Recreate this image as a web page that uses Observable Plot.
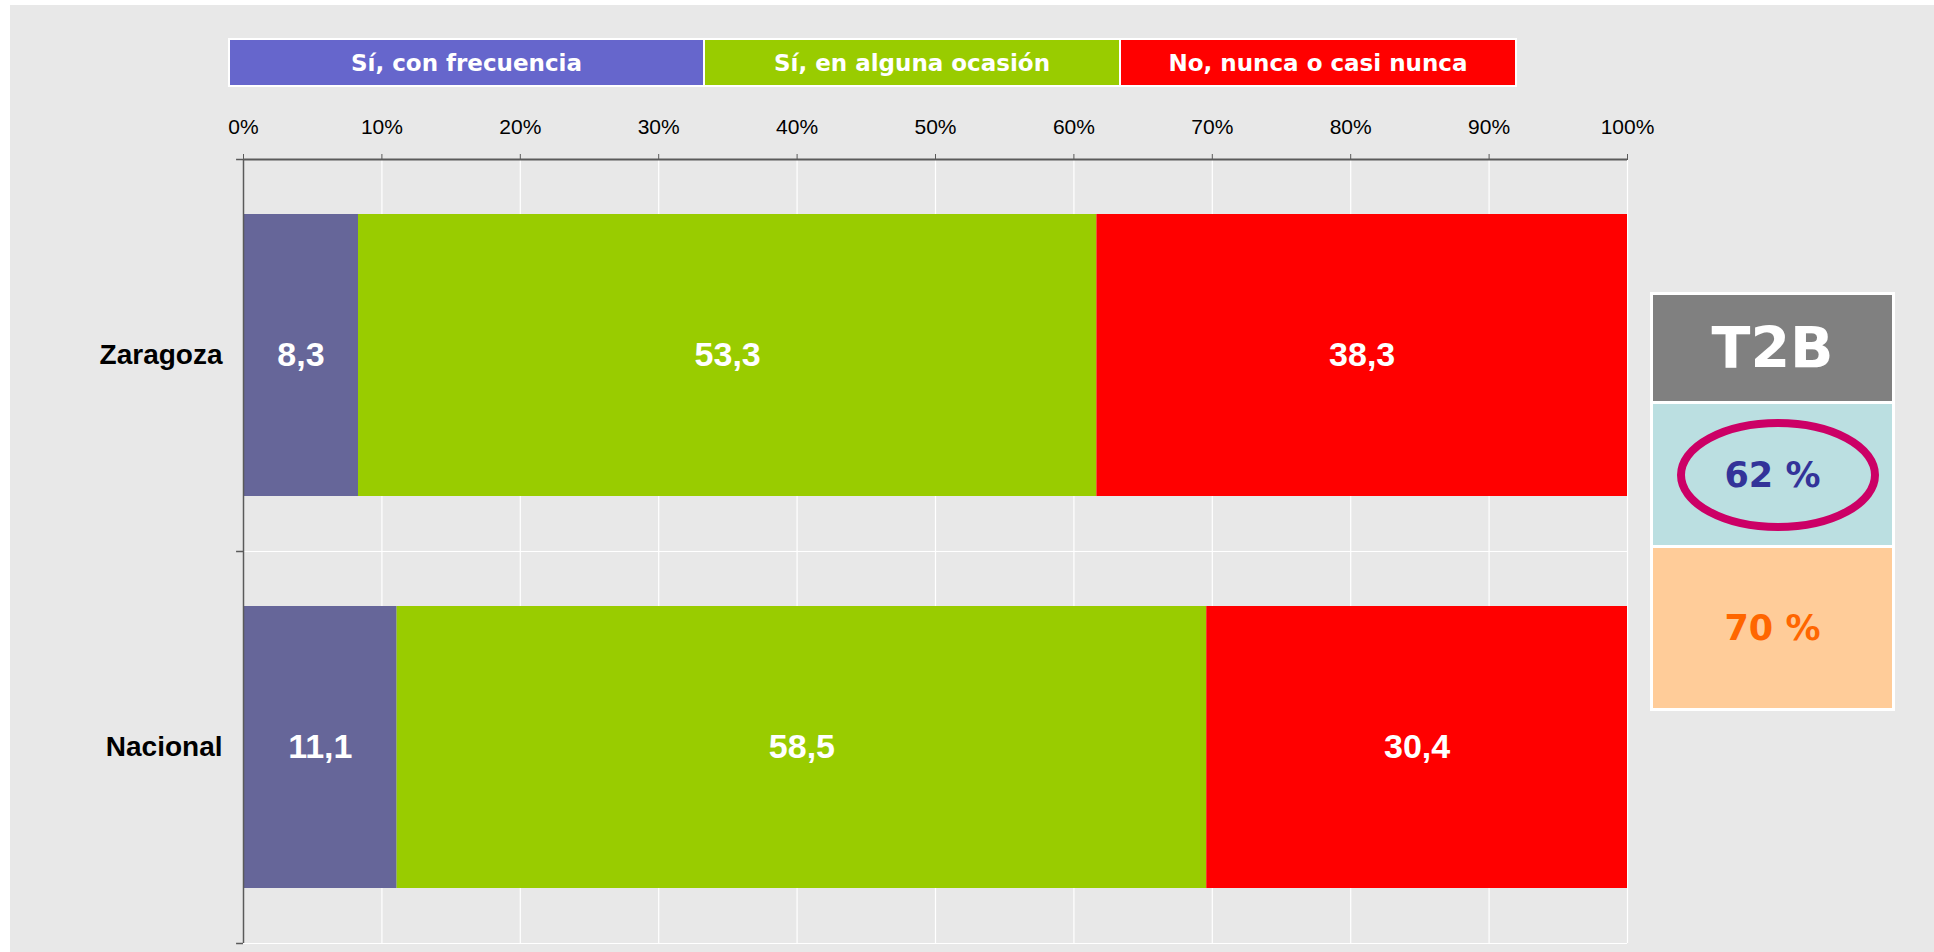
<!DOCTYPE html>
<html>
<head>
<meta charset="utf-8">
<script src="https://cdn.jsdelivr.net/npm/d3@7"></script>
<script src="https://cdn.jsdelivr.net/npm/@observablehq/plot@0.6"></script>
<style>
  html, body { margin: 0; padding: 0; background: #ffffff; }
  #wrap { position: relative; width: 1934px; height: 952px; overflow: hidden; }
  #bg { position: absolute; left: 10px; top: 5px; right: 0; bottom: 0; background: #e8e8e8; }
  #chart { position: absolute; left: 0; top: 0; }
  #legend { position: absolute; left: 228px; top: 38px; display: flex; border: 2.5px solid #ffffff; background: #ffffff; }
  #legend div { height: 45px; display: flex; align-items: center; justify-content: center;
    color: #ffffff; font-family: "DejaVu Sans", Verdana, sans-serif; font-weight: bold; font-size: 23px; }
  #t2b { position: absolute; left: 1650px; top: 292px; width: 239px; padding: 3px; background: #ffffff; }
  #t2b .cell { display: flex; align-items: center; justify-content: center; position: relative;
    font-family: "DejaVu Sans", Verdana, sans-serif; font-weight: bold; }
  #t2b svg { position: absolute; left: 0; top: 0; }
</style>
</head>
<body>
<div id="wrap">
  <div id="bg"></div>
  <div id="chart"></div>
  <div id="legend"></div>
  <div id="t2b"></div>
</div>
<script>
// ---- data ----
const categories = ["Zaragoza", "Nacional"];
const series = ["Sí, con frecuencia", "Sí, en alguna ocasión", "No, nunca o casi nunca"];
const valuesFrecuencia = [8.3, 11.1];
const valuesOcasion = [53.3, 58.5];
const valuesNunca = [38.3, 30.4];
const barColors = ["#666699", "#99cc00", "#ff0000"];
const legendColors = ["#6666cc", "#99cc00", "#ff0000"];
const xTicks = [0, 0.1, 0.2, 0.3, 0.4, 0.5, 0.6, 0.7, 0.8, 0.9, 1];
const t2bTitle = "T2B";
const t2bValues = ["62 %", "70 %"];

// ---- table built from arrays ----
const seriesValues = [valuesFrecuencia, valuesOcasion, valuesNunca];
const rows = [];
categories.forEach((c, i) => {
  series.forEach((s, j) => rows.push({category: c, series: s, value: seriesValues[j][i]}));
});
const fmt = v => d3.format(".1f")(v).replace(".", ",");

// layout
const W = 1934, H = 952;
const mLeft = 243, mRight = W - 1627, mTop = 159, mBottom = H - 943;
const half = (H - mTop - mBottom) / categories.length / 2;
const barInset = 55;
const axisColor = "#5a5a5a";

const plot = Plot.plot({
  width: W,
  height: H,
  marginLeft: mLeft,
  marginRight: mRight,
  marginTop: mTop,
  marginBottom: mBottom,
  style: {background: "transparent", fontFamily: "'Liberation Sans', Arial, sans-serif", overflow: "visible"},
  x: {domain: [0, 1]},
  y: {domain: categories, padding: 0},
  color: {domain: series, range: barColors},
  marks: [
    // gridlines
    Plot.ruleX(xTicks, {stroke: "#ffffff", strokeWidth: 1.2}),
    Plot.ruleY(categories, {y: d => d, dy: half, stroke: "#ffffff", strokeWidth: 1.2}),
    // bars
    Plot.barX(rows, Plot.stackX({
      x: "value", y: "category", fill: "series", offset: "normalize", order: series,
      insetTop: barInset, insetBottom: barInset
    })),
    Plot.text(rows, Plot.stackX({
      x: "value", y: "category", z: "series", offset: "normalize", order: series,
      text: d => fmt(d.value), fill: "#ffffff", fontSize: 34, fontWeight: "bold"
    })),
    // axes lines
    Plot.ruleX([0], {stroke: axisColor, strokeWidth: 1.5}),
    Plot.ruleY([categories[0]], {dy: -half, stroke: axisColor, strokeWidth: 2}),
    // y boundary ticks
    Plot.ruleY(categories, {y: d => d, x1: -0.005, x2: 0, dy: -half, stroke: axisColor, strokeWidth: 1.5}),
    Plot.ruleY([categories[categories.length - 1]], {x1: -0.005, x2: 0, dy: half, stroke: axisColor, strokeWidth: 1.5}),
    Plot.axisX({anchor: "top", ticks: xTicks, tickFormat: d3.format(".0%"), tickSize: 6,
      tickPadding: 20, fontSize: 21, stroke: axisColor, fill: "#000000", label: null}),
    Plot.axisY({anchor: "left", tickSize: 0, tickPadding: 21, fontSize: 28, fontWeight: "bold",
      fill: "#000000", label: null})
  ]
});
document.getElementById("chart").appendChild(plot);

// ---- legend (HTML built from series arrays) ----
const legendWidths = [473, 414, 394];
const legend = document.getElementById("legend");
series.forEach((s, i) => {
  const d = document.createElement("div");
  d.textContent = s;
  d.style.background = legendColors[i];
  d.style.width = legendWidths[i] + "px";
  if (i > 0) d.style.borderLeft = "2px solid #ffffff";
  legend.appendChild(d);
});

// ---- T2B box ----
const t2b = document.getElementById("t2b");
const cells = [
  {text: t2bTitle, bg: "#808080", color: "#ffffff", h: 106, size: 57},
  {text: t2bValues[0], bg: "#bbdfe1", color: "#333399", h: 141, size: 35, ring: true},
  {text: t2bValues[1], bg: "#ffcc99", color: "#ff6600", h: 160, size: 35}
];
cells.forEach((c, i) => {
  const d = document.createElement("div");
  d.className = "cell";
  d.style.background = c.bg;
  d.style.height = c.h + "px";
  d.style.color = c.color;
  d.style.fontSize = c.size + "px";
  if (i > 0) d.style.marginTop = "3px";
  if (c.ring) {
    const svg = d3.create("svg").attr("width", 239).attr("height", c.h);
    svg.append("ellipse").attr("cx", 125).attr("cy", 71).attr("rx", 97).attr("ry", 52)
      .attr("fill", "none").attr("stroke", "#cc0066").attr("stroke-width", 8);
    d.appendChild(svg.node());
  }
  const span = document.createElement("span");
  span.textContent = c.text;
  span.style.position = "relative";
  d.appendChild(span);
  t2b.appendChild(d);
});
</script>
</body>
</html>
